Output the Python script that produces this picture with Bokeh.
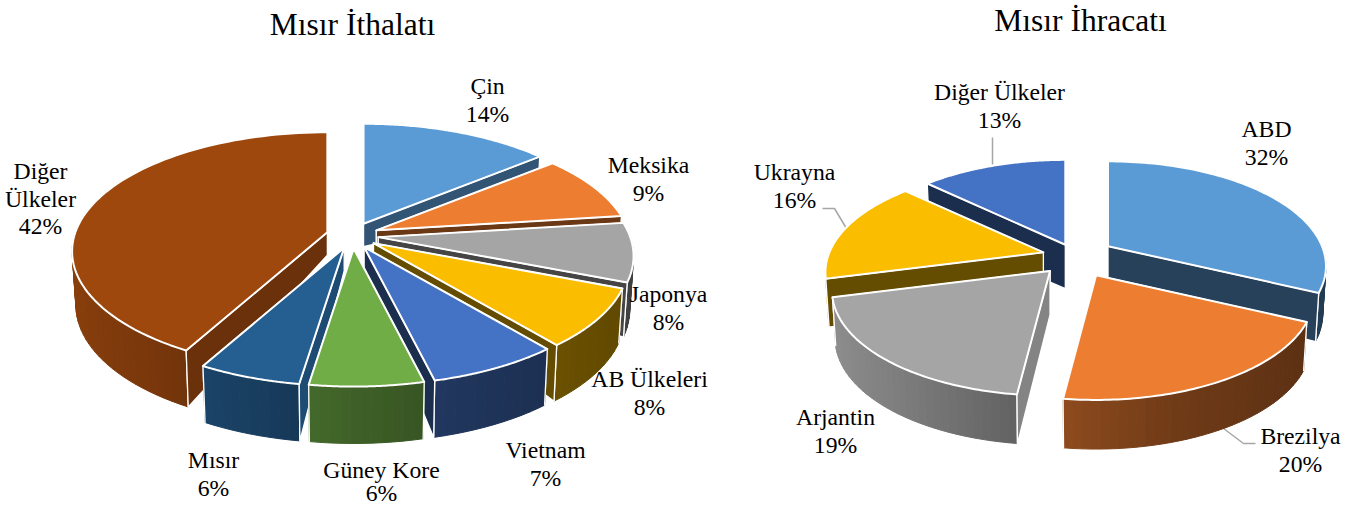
import numpy as np
from bokeh.plotting import figure
from bokeh.models import ColumnDataSource
from bokeh.core.properties import value
from bokeh.embed import file_html
from bokeh.resources import INLINE

# --- data ---
import_names = ["Çin", "Meksika", "Japonya", "AB Ülkeleri", "Vietnam", "Güney Kore", "Mısır", "Diğer Ülkeler"]
import_share = [14, 9, 8, 8, 7.2, 6.2, 5.6, 42]
import_colors = ["#5b9bd5", "#ed7d31", "#a5a5a5", "#fbbd00", "#4472c4", "#70ad47", "#255e91", "#9e480e"]
import_wall = [0.55, 0.45, 0.42, 0.40, 0.40, 0.50, 0.80, 0.68]
import_explode = [0.103] * 8

export_names = ["ABD", "Brezilya", "Arjantin", "Ukrayna", "Diğer Ülkeler"]
export_share = [32, 20, 19, 16, 13]
export_colors = ["#5b9bd5", "#ed7d31", "#a5a5a5", "#fbbd00", "#4472c4"]
export_wall = [0.42, 0.45, 0.80, 0.40, 0.40]
export_explode = [0.18, 0.2, 0.18, 0.155, 0.12]

# label layout: (centre x, first line centre y, line pitch, lines)
import_labels = [(487, 85.5, 27.6, ["Çin"]), (648, 164.5, 27.6, ["Meksika"]), (668, 293.5, 27.6, ["Japonya"]),
                 (649, 378.5, 27.6, ["AB Ülkeleri"]), (545, 449.5, 27.6, ["Vietnam"]),
                 (381, 469, 23.5, ["Güney Kore"]),
                 (213, 459.5, 27.6, ["Mısır"]), (40, 170.5, 27.6, ["Diğer", "Ülkeler"])]
export_labels = [(1266, 128.5, 27.6, ["ABD"]), (1300, 435.5, 27.6, ["Brezilya"]), (835, 416.5, 27.6, ["Arjantin"]),
                 (794, 171.5, 27.6, ["Ukrayna"]), (999, 91.5, 27.6, ["Diğer Ülkeler"])]

FONT = "Liberation Serif"


def shade(hex_color, f):
    r, g, b = (int(hex_color[i:i + 2], 16) for i in (1, 3, 5))
    return "#%02x%02x%02x" % (round(r * f), round(g * f), round(b * f))


def pie3d(shares, colors, walls, explode, cx, cy, R, K, p_, d_apex, d_rim, d_slope):
    """Perspective exploded pie; returns ordered patches."""
    xs, ys, fills, lines, widths = [], [], [], [], []

    def add(x, y, fill, line, w):
        xs.append(list(map(float, x)))
        ys.append(list(map(float, y)))
        fills.append(fill)
        lines.append(line)
        widths.append(w)

    edges = np.radians(np.concatenate([[0], np.cumsum(shares)]) * 3.6)
    mids = (edges[:-1] + edges[1:]) / 2
    for i in np.argsort(-np.cos(mids)):
        a0, a1 = edges[i], edges[i + 1]
        m = mids[i]
        ax = cx + explode[i] * R * np.sin(m)
        ay = cy - explode[i] * R * 0.5 * np.cos(m)
        col = colors[i]

        def off(t):
            s = 1 / (1 + p_ * np.cos(t))
            return R * np.sin(t) * s, -K * np.cos(t) * s

        def top(t):
            dx, dy = off(t)
            return ax + dx, ay + dy

        def low(t):
            dx, dy = off(t)
            return ax + dx * 0.985, ay + dy * 0.985 + d_rim - d_slope * np.cos(t)

        wall = shade(col, walls[i])

        def add_wall(t):
            tx, ty = top(t)
            lx, ly = low(t)
            add([ax, tx, lx, ax], [ay, ty, ly, ay + d_apex], wall, "white", 1.3)

        # a radial wall faces the viewer when its outward normal points forward
        start_seen = np.sin(a0) < -1e-6
        end_seen = np.sin(a1) > 1e-6
        if not start_seen:
            add_wall(a0)
        if not end_seen:
            add_wall(a1)

        ts = np.linspace(a0, a1, max(int(np.degrees(a1 - a0) / 2), 2) + 1)
        vis = ts[np.cos(ts) < 0.22]
        for t0, t1 in zip(vis[:-1], vis[1:]):
            um = np.sin((t0 + t1) / 2)
            f = np.interp(um, [-1, -0.6, -0.2, 0.3, 0.8, 1], [0.87, 0.76, 0.62, 0.47, 0.40, 0.38])
            c = shade(col, f)
            x0, y0 = top(t0)
            x1, y1 = top(t1)
            x2, y2 = low(t1)
            x3, y3 = low(t0)
            add([x0, x1, x2, x3], [y0, y1, y2, y3], c, c, 1)
        if len(vis) > 1:
            for t in (vis[0], vis[-1]):
                if np.isclose(t, a0) or np.isclose(t, a1):
                    tx, ty = top(t)
                    lx, ly = low(t)
                    add([tx, lx], [ty, ly], wall, "white", 1.3)

        if start_seen:
            add_wall(a0)
        if end_seen:
            add_wall(a1)

        arc = np.linspace(a0, a1, 80)
        px, py = zip(*[top(t) for t in arc])
        add([ax, *px], [ay, *py], col, "white", 2)
    return dict(xs=xs, ys=ys, fill=fills, line=lines, width=widths)


p = figure(width=1355, height=506, x_range=(0, 1355), y_range=(506, 0),
           toolbar_location=None, output_backend="svg", min_border=0,
           background_fill_color="white", border_fill_color="white")
p.axis.visible = False
p.grid.visible = False
p.outline_line_color = None

# leader lines (behind the pies)
p.multi_line(xs=[[992, 992], [822, 834, 846], [1223, 1243, 1255]],
             ys=[[137, 164], [208, 208, 228], [428, 443, 443]],
             line_color="#a6a6a6", line_width=1.5)

left = pie3d(import_share, import_colors, import_wall, import_explode,
             352, 235, 252, 116, 0.16, 23, 53, 6)
right = pie3d(export_share, export_colors, export_wall, export_explode,
              1075, 256, 214, 101, 0.19, 44, 48, 3)
for d in (left, right):
    p.patches("xs", "ys", source=ColumnDataSource(d), fill_color="fill", line_color="line",
              line_width="width", line_join="round")

tx, ty, tt = [], [], []
for labels, shares in ((import_labels, import_share), (export_labels, export_share)):
    for (x, y, pitch, lines), s in zip(labels, shares):
        for j, t in enumerate(lines + [f"{round(s)}%"]):
            tx.append(x)
            ty.append(y + j * pitch)
            tt.append(t)
p.text(tx, ty, text=tt, text_font=value(FONT), text_font_size="23.7px", text_color="#000000",
       text_align="center", text_baseline="middle")
p.text([352, 1080], [24, 20], text=["Mısır İthalatı", "Mısır İhracatı"], text_font=value(FONT),
       text_font_size="31.5px", text_color="#000000", text_align="center", text_baseline="middle")

open("out.html", "w").write(file_html(p, INLINE))
